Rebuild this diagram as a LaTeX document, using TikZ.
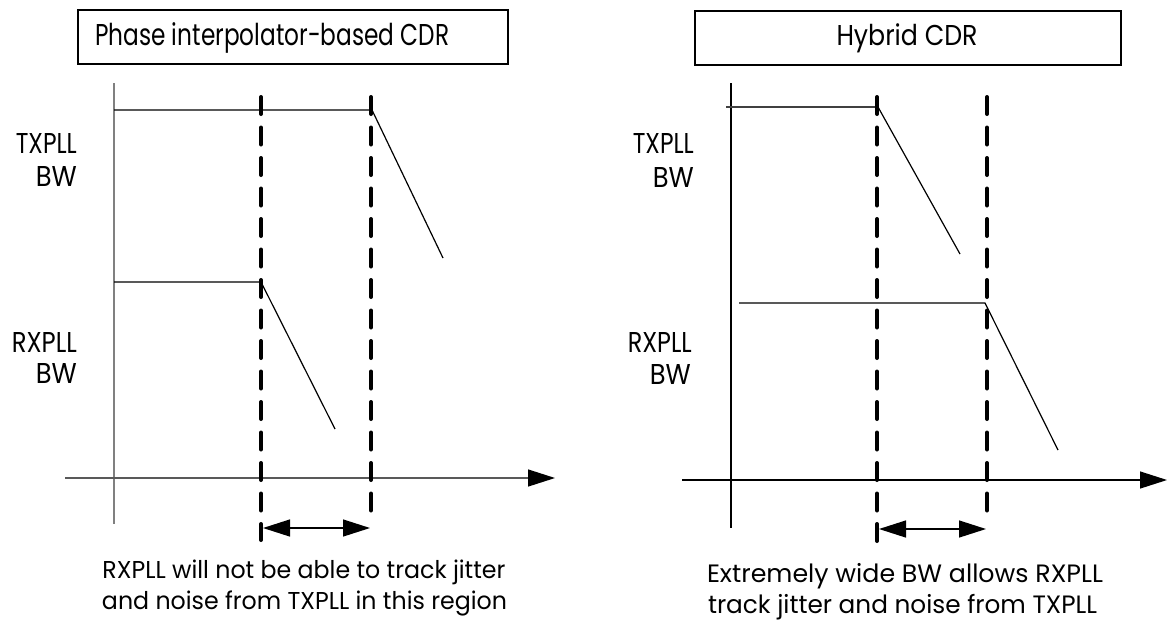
\documentclass[tikz,border=0pt]{standalone}
\usepackage{fontspec}
\usepackage{graphicx}
\setmainfont{Poppins}
\usetikzlibrary{arrows.meta}
\newcommand{\fitline}[3]{\resizebox{#1}{#2}{\vphantom{H}\smash{#3}}}
\begin{document}
\begin{tikzpicture}[x=1pt,y=-1pt,
  every node/.style={inner sep=0pt, font=\fontsize{24}{30}\selectfont},
  titlebox/.style={draw, line width=1.5pt, minimum height=54pt, anchor=north west},
  axisline/.style={line width=1.3pt},
  curve/.style={line width=1.2pt},
  cutoff/.style={line width=4pt, line cap=round, dash pattern=on 17pt off 13.5pt},
  bigarrow/.style={-{Triangle[length=27pt,width=17pt,color=black]}, line width=1.3pt},
  dblarrow/.style={{Triangle[length=27pt,width=17pt]}-{Triangle[length=27pt,width=17pt]}, line width=1.3pt},
  rlbl/.style={anchor=base east},
  llbl/.style={anchor=base west},
  clbl/.style={anchor=base}
]
\useasboundingbox (0,0) rectangle (1167,622);

% ---------- left panel ----------
\node[titlebox, minimum width=430pt] (t1) at (77,9) {};
\node[llbl] (t1txt) at (95,45) {\fitline{354pt}{21pt}{Phase interpolator-based CDR}};

\coordinate (ya1) at (114,83);
\coordinate (yb1) at (114,524);
\draw[axisline, gray] (ya1) -- (yb1);
\coordinate (xa1) at (65,478);
\coordinate (xb1) at (555,478);
\draw[bigarrow, black!65] (xa1) -- (xb1);

\coordinate (tx1s) at (114,110);
\coordinate (tx1k) at (372,110);
\coordinate (tx1e) at (443,258);
\draw[curve] (tx1s) -- (tx1k) -- (tx1e);

\coordinate (rx1s) at (114,282);
\coordinate (rx1k) at (261,282);
\coordinate (rx1e) at (335,429);
\draw[curve] (rx1s) -- (rx1k) -- (rx1e);

\coordinate (d1at) at (261,97);
\coordinate (d1ab) at (261,540);
\coordinate (d1bt) at (371,97);
\coordinate (d1bb) at (371,515);
\draw[cutoff] (d1at) -- (d1ab);
\draw[cutoff] (d1bt) -- (d1bb);

\coordinate (a1l) at (263,528);
\coordinate (a1r) at (370,528);
\draw[dblarrow] (a1l) -- (a1r);

\node[rlbl] (tx1a) at (77,153) {\fitline{61pt}{20pt}{TXPLL}};
\node[rlbl] (tx1b) at (77,186) {\fitline{41pt}{20pt}{BW}};
\node[rlbl] (rx1a) at (77,352) {\fitline{65pt}{20pt}{RXPLL}};
\node[rlbl] (rx1b) at (77,383) {\fitline{41pt}{20pt}{BW}};
\node[clbl] (cap1a) at (304,578) {\fitline{403pt}{17pt}{RXPLL will not be able to track jitter}};
\node[clbl] (cap1b) at (304.5,609) {\fitline{405pt}{17pt}{and noise from TXPLL in this region}};

% ---------- right panel ----------
\node[titlebox, minimum width=426pt] (t2) at (694,10) {};
\node[clbl] (t2txt) at (907,45) {\fitline{141pt}{20pt}{Hybrid CDR}};

\coordinate (ya2) at (731,83);
\coordinate (yb2) at (731,528);
\draw[axisline] (ya2) -- (yb2);
\coordinate (xa2) at (682,480);
\coordinate (xb2) at (1167,480);
\draw[bigarrow] (xa2) -- (xb2);

\coordinate (tx2s) at (726,107);
\coordinate (tx2k) at (878,107);
\coordinate (tx2e) at (960,254);
\draw[curve, black!75] (tx2s) -- (tx2k);
\draw[curve] (tx2k) -- (tx2e);

\coordinate (rx2s) at (739,303);
\coordinate (rx2k) at (985,303);
\coordinate (rx2e) at (1058,450);
\draw[curve] (rx2s) -- (rx2k) -- (rx2e);

\coordinate (d2at) at (877,97);
\coordinate (d2ab) at (877,542);
\coordinate (d2bt) at (987,97);
\coordinate (d2bb) at (987,517);
\draw[cutoff] (d2at) -- (d2ab);
\draw[cutoff] (d2bt) -- (d2bb);

\coordinate (a2l) at (879,529);
\coordinate (a2r) at (986,529);
\draw[dblarrow] (a2l) -- (a2r);

\node[rlbl] (tx2a) at (694,153) {\fitline{61pt}{20pt}{TXPLL}};
\node[rlbl] (tx2b) at (694,187) {\fitline{41pt}{20pt}{BW}};
\node[rlbl] (rx2a) at (692,352) {\fitline{64pt}{20pt}{RXPLL}};
\node[rlbl] (rx2b) at (691,384) {\fitline{41pt}{20pt}{BW}};
\node[clbl] (cap2a) at (905,582) {\fitline{396pt}{17.5pt}{Extremely wide BW allows RXPLL}};
\node[clbl] (cap2b) at (902.5,613) {\fitline{389pt}{17.5pt}{track jitter and noise from TXPLL}};
\end{tikzpicture}
\end{document}
